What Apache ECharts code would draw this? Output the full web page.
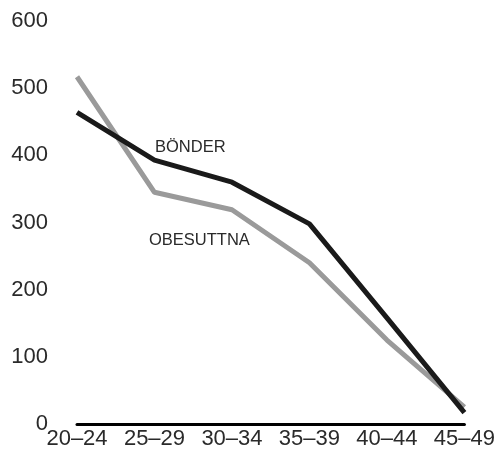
<!DOCTYPE html>
<html>
<head>
<meta charset="utf-8">
<script src="https://cdn.jsdelivr.net/npm/echarts@6/dist/echarts.min.js"></script>
<style>html,body{margin:0;padding:0;background:#fff;}#c{width:498px;height:450px;}</style>
</head>
<body>
<div id="c"></div>
<script>
const categories = ['20–24','25–29','30–34','35–39','40–44','45–49'];
const bonder = [464, 393, 360, 298, 158, 17];
const obesuttna = [517, 345, 319, 240, 125, 25];
const yTicks = [0, 100, 200, 300, 400, 500, 600];
const seriesNames = ['BÖNDER', 'OBESUTTNA'];

const chart = echarts.init(document.getElementById('c'), null, {renderer: 'canvas'});
const font = 'Liberation Sans, Arial, sans-serif';
chart.setOption({
  animation: false,
  backgroundColor: '#fff',
  grid: {left: 77, right: 33, top: 21, bottom: 26, containLabel: false},
  xAxis: {
    type: 'category',
    data: categories,
    boundaryGap: false,
    axisLine: {show: true, lineStyle: {color: '#000', width: 3}},
    axisTick: {show: false},
    axisLabel: {fontSize: 22, color: '#2a2a2a', fontFamily: font, margin: 4, interval: 0}
  },
  yAxis: {
    type: 'value',
    min: yTicks[0], max: yTicks[yTicks.length - 1], interval: 100,
    axisLine: {show: false},
    axisTick: {show: false},
    splitLine: {show: false},
    axisLabel: {fontSize: 22, color: '#2a2a2a', fontFamily: font, margin: 29}
  },
  series: [
    {name: seriesNames[1], type: 'line', data: obesuttna, symbol: 'none',
     lineStyle: {color: '#9a9a9a', width: 5}, z: 2},
    {name: seriesNames[0], type: 'line', data: bonder, symbol: 'none',
     lineStyle: {color: '#1a1a1a', width: 5}, z: 3}
  ],
  graphic: [
    {type: 'text', left: 155, top: 139, style: {text: seriesNames[0], fontSize: 16.5, fill: '#2a2a2a', fontFamily: font}},
    {type: 'text', left: 149, top: 232, style: {text: seriesNames[1], fontSize: 16.5, fill: '#2a2a2a', fontFamily: font}}
  ]
});
</script>
</body>
</html>
